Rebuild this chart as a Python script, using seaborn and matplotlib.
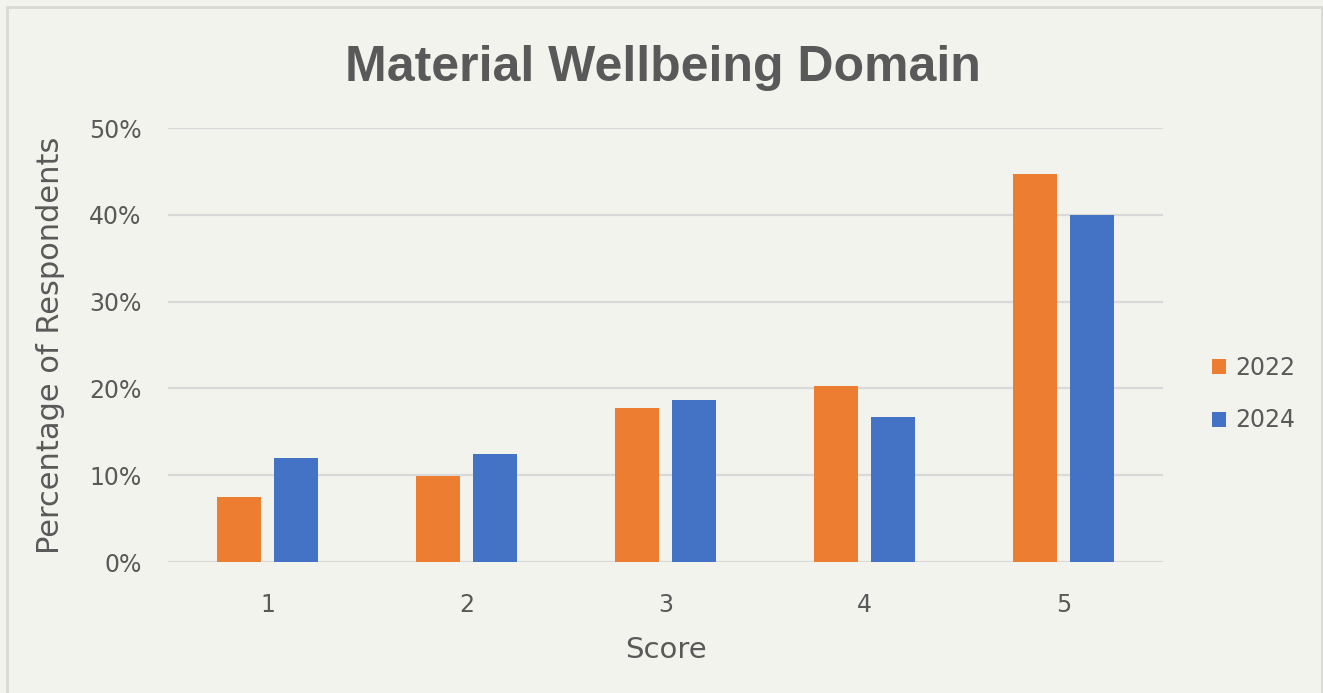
import pandas as pd
import matplotlib.pyplot as plt
import seaborn as sns
from matplotlib.ticker import PercentFormatter
from matplotlib.patches import Rectangle

scores = ["1", "2", "3", "4", "5"]
years = ["2022", "2024"]
pct_2022 = [0.075, 0.099, 0.177, 0.203, 0.447]
pct_2024 = [0.120, 0.125, 0.187, 0.167, 0.400]

BG = "#f3f3ee"
TXT = "#595959"
GRID = "#d9d9d9"


def plot():
    df = pd.DataFrame({
        "Score": scores * 2,
        "Year": [years[0]] * len(scores) + [years[1]] * len(scores),
        "Pct": pct_2022 + pct_2024,
    })

    sns.set_theme(style="white")
    plt.rcParams["font.family"] = ["DejaVu Sans"]

    fig = plt.figure(figsize=(13.23, 6.93), dpi=100, facecolor=BG)
    ax = fig.add_axes([0.127, 0.189, 0.752, 0.626])
    ax.set_facecolor(BG)

    sns.barplot(data=df, x="Score", y="Pct", hue="Year", order=scores, hue_order=years,
                palette=["#ED7D31", "#4472C4"], width=0.573, gap=0.22,
                saturation=1, linewidth=0, ax=ax, legend=True)

    ax.set_ylim(0, 0.5)
    ax.set_yticks([0, 0.1, 0.2, 0.3, 0.4, 0.5])
    ax.yaxis.set_major_formatter(PercentFormatter(1.0, decimals=0))
    ax.yaxis.grid(True, color=GRID, linewidth=1.6)
    ax.set_axisbelow(True)
    for s in ax.spines.values():
        s.set_visible(False)
    ax.tick_params(axis="both", length=0, labelsize=17, labelcolor=TXT)
    ax.tick_params(axis="y", pad=19)
    ax.tick_params(axis="x", pad=22)

    ax.set_xlabel("Score", fontsize=21, color=TXT, labelpad=14)
    ax.set_ylabel("Percentage of Respondents", fontsize=22, color=TXT, labelpad=17)
    fig.suptitle("Material Wellbeing Domain", x=0.501, y=0.935, fontsize=36,
                 fontweight="bold", color=TXT, family=["Liberation Sans", "DejaVu Sans"])

    ax.get_legend().remove()
    handles, labels = ax.get_legend_handles_labels()
    fig.legend(handles, labels, loc="center left", bbox_to_anchor=(0.900, 0.431),
               frameon=False, fontsize=17, labelcolor=TXT, handlelength=0.6,
               handleheight=0.6, handletextpad=0.4, labelspacing=1.2)

    fig.add_artist(Rectangle((0.005, -0.05), 0.994, 0.05 + 0.9895, fill=False,
                             edgecolor="#d9d9d5", linewidth=2, transform=fig.transFigure))

    fig.savefig("out.png", dpi=100, facecolor=BG)


if __name__ == "__main__":
    plot()
